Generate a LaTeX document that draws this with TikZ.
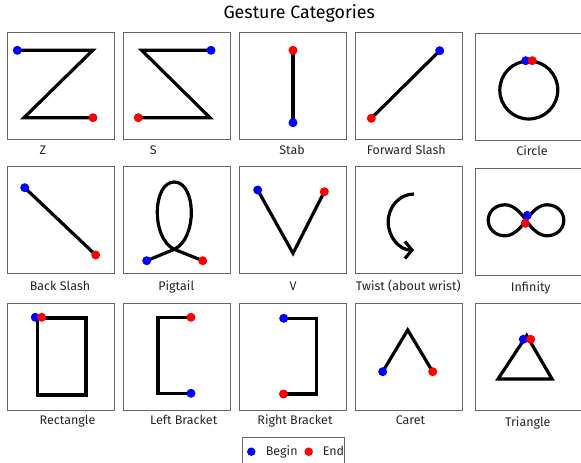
\documentclass[tikz,border=0pt]{standalone}
\usepackage{fontspec}
\setmainfont{Fira Sans}
\usetikzlibrary{arrows.meta}
\tikzset{
  panel/.style={draw=black!60, line width=0.8pt},
  stroke/.style={line width=3.2pt},
  begindot/.style={circle, fill=blue, inner sep=0pt, minimum size=9pt},
  enddot/.style={circle, fill=red, inner sep=0pt, minimum size=9pt},
  caption/.style={anchor=base, font=\fontsize{12.5}{14}\selectfont, text=black!85},
}

\begin{document}
\begin{tikzpicture}[x=1pt,y=-1pt]
			\useasboundingbox (0,0) rectangle (581,463);
			% title
			\node[anchor=base, font=\fontsize{17.8}{20}\selectfont] (title) at (299.2,19) {Gesture Categories};
			% panels
			\foreach \x in {7.3,123.3,239.7,355.7}
				\foreach \y in {32.3,166.7,303.3}
					\draw[panel] (\x,\y) rectangle ++(107,106.7);
			\foreach \y in {33.7,168,303.3}
				\draw[panel] (475.7,\y) rectangle ++(107,107);
			% first row
			\draw[stroke] (17.3,50.3) coordinate (zB) -- (92.7,50.3) -- (24,117.7) -- (93,117.7) coordinate (zE);
			\node[begindot] (zbeg) at (zB) {};
			\node[enddot] (zend) at (zE) {};
			\draw[stroke] (211,50.3) coordinate (sB) -- (141.7,50.3) -- (210,117.7) -- (138.3,117.7) coordinate (sE);
			\node[begindot] (sbeg) at (sB) {};
			\node[enddot] (send) at (sE) {};
			\draw[stroke] (293,122.7) coordinate (stB) -- (293,50.3) coordinate (stE);
			\node[begindot] (stbeg) at (stB) {};
			\node[enddot] (stend) at (stE) {};
			\draw[stroke] (439.7,50.7) coordinate (fsB) -- (371.3,118.3) coordinate (fsE);
			\node[begindot] (fsbeg) at (fsB) {};
			\node[enddot] (fsend) at (fsE) {};
			\draw[stroke] (528.8,90) circle (29pt);
			\node[begindot] (cbeg) at (525.7,60.7) {};
			\node[enddot] (cend) at (532.3,60.7) {};
			% second row
			\draw[stroke] (24.7,187.7) coordinate (bsB) -- (95.7,255) coordinate (bsE);
			\node[begindot] (bsbeg) at (bsB) {};
			\node[enddot] (bsend) at (bsE) {};
			\draw[stroke] (146.7,260.7) coordinate (pB) -- (174.3,249.3)
				.. controls (198,238) and (196,182) .. (174.3,182)
				.. controls (152.6,182) and (150.6,238) .. (174.3,249.3) -- (202.7,260.7) coordinate (pE);
			\node[begindot] (pbeg) at (pB) {};
			\node[enddot] (pend) at (pE) {};
			\draw[stroke] (257.7,190) coordinate (vB) -- (293,253.3) -- (324.3,191.7) coordinate (vE);
			\node[begindot] (vbeg) at (vB) {};
			\node[enddot] (vend) at (vE) {};
			\draw[stroke, -{Straight Barb[length=7pt,width=17pt]}] (414,194) arc[start angle=90, end angle=270, x radius=25.8pt, y radius=28pt];
			\draw[stroke] (526,220.3)
				.. controls (533,210) and (540,204.8) .. (547,204.8)
				.. controls (557,204.8) and (563.8,212) .. (563.8,220.3)
				.. controls (563.8,228.5) and (557,235.8) .. (547,235.8)
				.. controls (540,235.8) and (533,230.5) .. (526,220.3)
				.. controls (519,210) and (512,204.8) .. (505,204.8)
				.. controls (495,204.8) and (488.2,212) .. (488.2,220.3)
				.. controls (488.2,228.5) and (495,235.8) .. (505,235.8)
				.. controls (512,235.8) and (519,230.5) .. (526,220.3);
			\node[begindot] (ibeg) at (527.3,215.3) {};
			\node[enddot] (iend) at (525.3,223.3) {};
			% third row
			\draw[stroke] (37.2,318) -- (86,318) -- (86,395) -- (37.2,395) -- cycle;
			\node[begindot] (rbeg) at (35.3,317.3) {};
			\node[enddot] (rend) at (41.7,317.3) {};
			\draw[stroke] (191,393.3) coordinate (lbB) -- (158,393.3) -- (158,317.3) -- (191,317.3) coordinate (lbE);
			\node[begindot] (lbbeg) at (lbB) {};
			\node[enddot] (lbend) at (lbE) {};
			\draw[stroke] (283.7,318.3) coordinate (rbB) -- (316.7,318.3) -- (316.7,394) -- (283.5,394) coordinate (rbE);
			\node[begindot] (rbbeg) at (rbB) {};
			\node[enddot] (rbend) at (rbE) {};
			\draw[stroke] (382.7,371.7) coordinate (caB) -- (407.7,330) -- (432.7,371.7) coordinate (caE);
			\node[begindot] (cabeg) at (caB) {};
			\node[enddot] (caend) at (caE) {};
			\draw[stroke] (526.7,335.5) -- (552,379) -- (498,379) -- cycle;
			\node[begindot] (tbeg) at (523.3,339.3) {};
			\node[enddot] (tend) at (530.7,339.3) {};
			% captions
			\node[caption] (zlbl) at (43,154) {Z};
			\node[caption] (slbl) at (153.4,154) {S};
			\node[caption] (stlbl) at (292,154) {Stab};
			\node[caption] (fslbl) at (406.3,154) {Forward Slash};
			\node[caption] (clbl) at (532,155.5) {Circle};
			\node[caption] (bslbl) at (60,290) {Back Slash};
			\node[caption] (plbl) at (176.3,290) {Pigtail};
			\node[caption] (vlbl) at (293,290) {V};
			\node[caption] (twlbl) at (408.3,290) {Twist (about wrist)};
			\node[caption] (ilbl) at (530.8,291.5) {Infinity};
			\node[caption] (rlbl) at (67.5,424.5) {Rectangle};
			\node[caption] (lblbl) at (183.7,424.5) {Left Bracket};
			\node[caption] (rblbl) at (295,424.5) {Right Bracket};
			\node[caption] (calbl) at (410.5,424.5) {Caret};
			\node[caption] (tlbl) at (527.8,426) {Triangle};
			% legend
			\draw[panel] (242,437.7) rectangle (344.3,475);
			\node[begindot, minimum size=8.5pt] (legbeg) at (251.3,451.7) {};
			\node[caption, anchor=base west] (legbegtxt) at (262.3,455.5) {Begin};
			\node[enddot, minimum size=8.5pt] (legend) at (308.7,451.7) {};
			\node[caption, anchor=base west] (legendtxt) at (319.3,455.5) {End};
		\end{tikzpicture}
\end{document}
